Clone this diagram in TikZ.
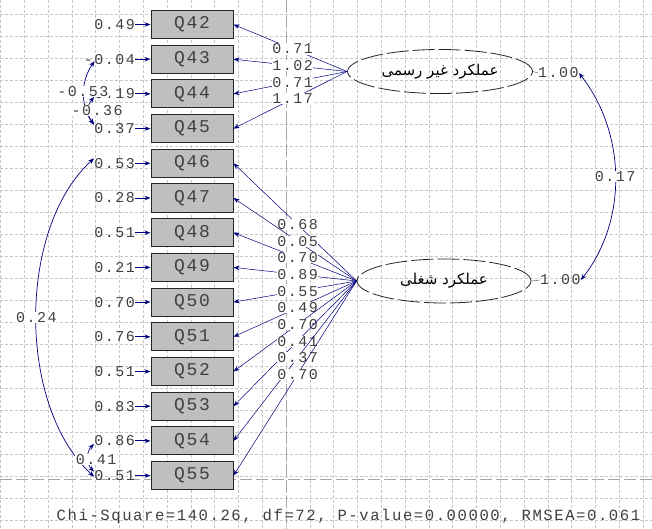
\documentclass[tikz,border=0pt]{standalone}
\usepackage{fontspec}
\usepackage{tikz}
\usetikzlibrary{arrows.meta,shapes.geometric,calc}
\newfontfamily\lisfont[LetterSpace=10]{Liberation Mono}
\newfontfamily\farsifont[Script=Arabic]{DejaVu Sans}
\TeXXeTstate=1
\colorlet{pathblue}{blue!50!black}
\colorlet{gridgray}{black!22}

\begin{document}
\begin{tikzpicture}[x=1pt,y=-1pt,>={Stealth[length=6pt,width=4.5pt]},
  qbox/.style={draw=black!85,line width=1pt,fill=black!25,minimum width=82pt,minimum height=28pt,inner sep=0pt,
    font=\lisfont\fontsize{18}{18}\selectfont,text=black!75},
  num/.style={inner sep=0pt,font=\lisfont\fontsize{15}{15}\selectfont,text=black!75},
  lbl/.style={num,fill=white,inner sep=0.5pt},
  latent/.style={ellipse,draw=black!85,line width=0.8pt,dash pattern=on 22pt off 4pt,minimum width=#1,minimum height=44pt,
    inner sep=0pt,font=\farsifont\fontsize{15}{15}\selectfont},
  load/.style={->,pathblue,line width=0.5pt},
  cov/.style={<->,pathblue,line width=0.7pt},
  gridline/.style={gridgray,dash pattern=on 3pt off 2pt,line width=0.5pt},
  pageline/.style={black!35,dash pattern=on 12pt off 4pt,line width=0.6pt}]
\useasboundingbox (0,0) rectangle (652,529);
\fill[white] (0,0) rectangle (652,529);
% grid of the drawing sheet
\foreach \i in {0,...,27} \draw[gridline] (0.4+23.8*\i,0) -- (0.4+23.8*\i,529);
\foreach \i in {0,...,23} \draw[gridline] (0,14+22*\i) -- (652,14+22*\i);
\draw[pageline] (286,0) -- (286,529);
\draw[pageline] (0,479) -- (652,479);

% observed items with error variances
\foreach \q/\ev [count=\i from 0] in {42/0.49,43/-0.04,44/0.19,45/0.37,46/0.53,47/0.28,48/0.51,
    49/0.21,50/0.70,51/0.76,52/0.51,53/0.83,54/0.86,55/0.51}{
  \node[qbox] (q\q) at (192,24.5+34.7*\i) {Q\q};
  \node[num,anchor=east] (e\q) at (135,24.5+34.7*\i) {\ev};
  \draw[->,pathblue,line width=0.9pt] (e\q.east) -- (q\q.west);
}

% latent factors
\node[latent=185pt] (f1) at (440,71.5) {\beginR عملکرد غیر رسمی\endR};
\node[latent=174pt] (f2) at (444,281) {\beginR عملکرد شغلی\endR};
\node[num,anchor=west] (v1) at (538,73) {1.00};
\node[num,anchor=west] (v2) at (540,280) {1.00};
\draw[black!70] (f1.east) -- (v1.west);
\draw[black!70] (f2.east) -- (v2.west);

% loadings
\foreach \q/\l in {42/0.71,43/1.02,44/0.71,45/1.17}
  \draw[load] (f1.west) -- node[lbl,pos=0.48] {\l} (q\q.east);
\foreach \q/\l in {46/0.68,47/0.05,48/0.70,49/0.89,50/0.55,51/0.49,52/0.70,53/0.41,54/0.37,55/0.70}
  \draw[load] (f2.west) -- node[lbl,pos=0.48] {\l} (q\q.east);

% covariances
\draw[cov] (v1.east) .. controls +(47,60) and +(47,-60) .. node[lbl] {0.17} (v2.east);
\draw[cov] ([xshift=11pt,yshift=-2pt]e43.west) .. controls +(-14,20) and +(-14,-20) .. node[lbl,xshift=-1pt,yshift=1pt] {-0.53} ([yshift=4pt]e45.west);
\draw[cov] ([yshift=-3pt]e44.west) .. controls +(-8,10) and +(-8,-10) .. node[lbl,xshift=9pt] {-0.36} ([yshift=4pt]e45.west);
\draw[cov] ([yshift=5pt]e46.west) .. controls +(-77,70) and +(-77,-70) .. node[lbl] {0.24} ([yshift=-1pt]e55.west);
\draw[cov] ([yshift=-3pt]e54.west) .. controls +(-8,8) and +(-8,-8) .. node[lbl,xshift=8pt,yshift=-2pt] {0.41} ([yshift=4pt]e55.west);

\node[num,font=\lisfont\fontsize{15.6}{16}\selectfont] (fit) at (348.5,516) {Chi-Square=140.26, df=72, P-value=0.00000, RMSEA=0.061};
\end{tikzpicture}
\end{document}
